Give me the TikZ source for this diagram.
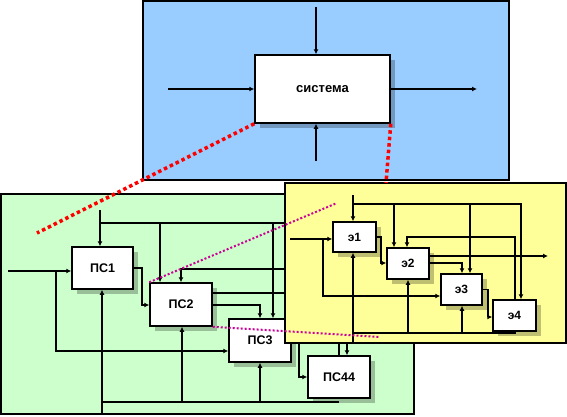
\documentclass[tikz,border=0pt]{standalone}
\usepackage{fontspec}
\setmainfont{Liberation Sans}
\usetikzlibrary{arrows.meta,shadows}
\definecolor{bluebg}{RGB}{153,204,255}
\definecolor{greenbg}{RGB}{204,255,204}
\definecolor{yellowbg}{RGB}{255,255,153}
\definecolor{dotred}{RGB}{255,0,0}
\definecolor{dotmag}{RGB}{204,0,153}
\begin{document}
\begin{tikzpicture}[x=1pt,y=-1pt,
  panel/.style={draw=black,line width=2.5pt},
  blk/.style={draw=black,line width=1.5pt,fill=white,inner sep=0pt,
    font=\fontsize{12.5pt}{15pt}\selectfont\bfseries,
    drop shadow={shadow xshift=5pt,shadow yshift=-5pt,fill=black,opacity=0.25}},
  eblk/.style={blk,font=\fontsize{12pt}{14pt}\selectfont\bfseries},
  wire/.style={line width=1.5pt},
  arr/.style={wire,-{Latex[length=5pt,width=5pt]}},
  reddots/.style={dotred,line width=3.5pt,dash pattern=on 3.5pt off 3pt},
  magdots/.style={dotmag,line width=2pt,dash pattern=on 2pt off 2pt}]
\useasboundingbox (0,0) rectangle (567,416);

% ---------- blue panel ----------
\draw[panel,fill=bluebg] (143,1) rectangle (509,180);
\node[blk,font=\fontsize{13pt}{15pt}\selectfont\bfseries,minimum width=135pt,minimum height=68pt] (sys) at (322.5,89) {система};
\coordinate (sysT) at (316,7);
\coordinate (sysL) at (168,89);
\coordinate (sysB) at (316,161);
\coordinate (sysR) at (477,89);
\draw[arr] (sysT) -- (sysT |- sys.north);
\draw[arr] (sysL) -- (sys.west);
\draw[arr] (sysB) -- (sysB |- sys.south);
\draw[arr] (sys.east) -- (sysR);

% ---------- green panel ----------
\draw[panel,fill=greenbg] (1,194) rectangle (414,414);
\node[blk,minimum width=61pt,minimum height=42pt] (ps1) at (102.5,268) {ПС1};
\node[blk,minimum width=62pt,minimum height=43pt] (ps2) at (181,304.5) {ПС2};
\node[blk,minimum width=62pt,minimum height=43pt] (ps3) at (260,340.5) {ПС3};
\node[blk,minimum width=62pt,minimum height=42pt] (ps44) at (339,377) {ПС44};

\coordinate (gIn) at (8,271);
\coordinate (gB) at (56,351);
\draw[arr] (gIn) -- (gIn -| ps1.west);
\draw[arr] (gIn -| gB) -- (gB) -- (gB -| ps3.west);
\coordinate (gT) at (100,210);
\coordinate (gTr) at (292,223);
\draw[arr] (gT) -- (gT |- ps1.north);
\draw[wire] (gT |- gTr) -- (gTr);
\coordinate (gT2) at (160,223);
\draw[arr] (gT2) -- (gT2 |- ps2.north);
\coordinate (gT3) at (273,223);
\draw[arr] (gT3) -- (gT3 |- ps3.north);
\coordinate (gM) at (181,269);
\coordinate (gMr) at (292,269);
\draw[arr] (gMr) -- (gM) -- (gM |- ps2.north);
\coordinate (g12) at (142,305);
\draw[arr] (ps1.east) -| (g12) -- (g12 -| ps2.west);
\coordinate (g2r) at (292,293);
\draw[wire] (g2r -| ps2.east) -- (g2r);
\coordinate (g23) at (260,305);
\draw[arr] (g23 -| ps2.east) -- (g23) -- (g23 |- ps3.north);
\coordinate (gBot) at (102,413);
\coordinate (gBl) at (339,402);
\draw[arr] (gBot) -- (gBot |- ps1.south);
\draw[wire] (gBot |- gBl) -- (gBl);
\coordinate (gB2) at (182,402);
\draw[arr] (gB2) -- (gB2 |- ps2.south);
\coordinate (gB3) at (260,402);
\draw[arr] (gB3) -- (gB3 |- ps3.south);
\coordinate (g44a) at (299,338);
\draw[arr] (g44a) |- (ps44.west);
\coordinate (g44c) at (339,338);
\draw[wire] (g44c) -- (g44c |- ps44.north);
\coordinate (g44d) at (347,338);
\draw[arr] (g44d) -- (g44d |- ps44.north);

% ---------- yellow panel ----------
\draw[panel,fill=yellowbg] (285,183) rectangle (566,343);
\node[eblk,minimum width=43pt,minimum height=30pt] (e1) at (354.5,237) {э1};
\node[eblk,minimum width=42pt,minimum height=31pt] (e2) at (408,263.5) {э2};
\node[eblk,minimum width=41pt,minimum height=31pt] (e3) at (461.5,289.5) {э3};
\node[eblk,minimum width=43pt,minimum height=31pt] (e4) at (514.5,315.5) {э4};

\coordinate (yIn) at (290,239);
\draw[arr] (yIn) -- (yIn -| e1.west);
\coordinate (yB) at (323,296);
\draw[arr] (yIn -| yB) -- (yB) -- (yB -| e3.west);
\coordinate (yT) at (353,195);
\coordinate (yTr) at (521,204);
\draw[arr] (yT) -- (yT |- e1.north);
\draw[arr] (yT |- yTr) -- (yTr) -- (yTr |- e4.north);
\coordinate (yT2) at (394,204);
\draw[arr] (yT2) -- (yT2 |- e2.north);
\coordinate (yT3) at (470,204);
\draw[arr] (yT3) -- (yT3 |- e3.north);
\coordinate (y12) at (381,263);
\draw[arr] (e1.east) -| (y12) -- (y12 -| e2.west);
\coordinate (yOut) at (548,256);
\draw[arr] (yOut -| e2.east) -- (yOut);
\coordinate (y23) at (462,263);
\draw[arr] (y23 -| e2.east) -- (y23) -- (y23 |- e3.north);
\coordinate (y34) at (488,317);
\draw[arr] (e3.east) -| (y34) -- (y34 -| e4.west);
\coordinate (yFb) at (515,237);
\coordinate (yFb2) at (407,237);
\draw[arr] (yFb |- e4.north) -- (yFb) -- (yFb2) -- (yFb2 |- e2.north);
\coordinate (yBt) at (515,333);
\coordinate (yBl) at (353,333);
\draw[wire] (yBt |- e4.south) -- (yBt) -- (yBl);
\coordinate (yE1) at (353,342);
\draw[arr] (yE1) -- (yE1 |- e1.south);
\coordinate (yB2) at (408,333);
\draw[arr] (yB2) -- (yB2 |- e2.south);
\coordinate (yB3) at (462,333);
\draw[arr] (yB3) -- (yB3 |- e3.south);

% ---------- dotted links ----------
\coordinate (rEnd1) at (37,233);
\coordinate (rEnd2) at (386,183);
\draw[reddots] (sys.south west) -- (rEnd1);
\draw[reddots] (sys.south east) -- (rEnd2);
\coordinate (mEnd1) at (337,203);
\coordinate (mEnd2) at (380,337);
\draw[magdots] (ps2.north west) -- (mEnd1);
\draw[magdots] (ps2.south east) -- (mEnd2);
\end{tikzpicture}
\end{document}
